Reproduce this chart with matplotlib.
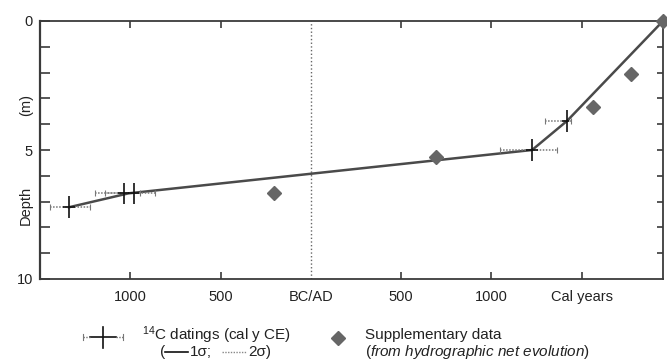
import matplotlib
matplotlib.use("Agg")
import matplotlib.pyplot as plt
import numpy as np

plt.rcParams['font.family'] = ['Liberation Sans', 'DejaVu Sans']
plt.rcParams['mathtext.fontset'] = 'custom'
plt.rcParams['mathtext.rm'] = 'Liberation Sans'
plt.rcParams['mathtext.it'] = 'Liberation Sans:italic'

# 14C datings (cal years, negative = BC) and depth (m)
c14_year = [-1340, -1037, -982, 1225, 1419]
c14_depth = [7.22, 6.68, 6.68, 5.0, 3.87]
c14_2s_lo = [-1443, -1194, -1139, 1050, 1299]
c14_2s_hi = [-1222, -945, -863, 1364, 1438]
c14_1s_lo = [-1372, -1070, -1015, 1193, 1392]
c14_1s_hi = [-1308, -1005, -950, 1257, 1432]

# age-depth model
model_year = [-1340, -1010, 1225, 1419, 1950]
model_depth = [7.22, 6.68, 5.0, 3.87, 0.0]

# supplementary data (hydrographic net evolution)
supp_year = [-206, 695, 1561, 1774, 1950]
supp_depth = [6.65, 5.26, 3.34, 2.05, 0.0]

xtick_pos = [-1000, -500, 0, 500, 1000, 1500]
xtick_lab = ['1000', '500', 'BC/AD', '500', '1000', 'Cal years']

W, H = 667, 362
fig = plt.figure(figsize=(W / 100, H / 100), dpi=100)
ax = fig.add_axes([40 / W, 1 - 279 / H, 623 / W, 258 / H])

ax.axvline(0, color='#666666', lw=1, ls=':', zorder=1)

ax.plot(model_year, model_depth, color='#4a4a4a', lw=1.8, zorder=2)

x = np.array(c14_year)
e2 = [x - np.array(c14_2s_lo), np.array(c14_2s_hi) - x]
e1 = [x - np.array(c14_1s_lo), np.array(c14_1s_hi) - x]
eb2 = ax.errorbar(c14_year, c14_depth, xerr=e2, fmt='none', ecolor='#777777',
                  elinewidth=1.1, capsize=2.5, capthick=0.8, zorder=3)
eb2[2][0].set_linestyle((0, (1, 1)))
ax.errorbar(c14_year, c14_depth, xerr=e1, yerr=0.42, fmt='none', ecolor='#111111',
            elinewidth=1.2, capsize=0, zorder=4)

ax.plot(supp_year, supp_depth, ls='none', marker='D', ms=7, color='#666666',
        mec='#666666', zorder=5, clip_on=False)

ax.set_xlim(-1500, 1950)
ax.set_ylim(10, 0)
ax.set_xticks(xtick_pos)
ax.set_xticklabels(xtick_lab)
ax.set_yticks([0, 5, 10])
ax.set_yticks(range(1, 10), minor=True)
ax.tick_params(axis='x', direction='in', length=5, width=1.2, color='#3a3a3a',
               top=True, labelsize=10.5, pad=8, labelcolor='#222222')
ax.tick_params(axis='y', which='both', direction='in', length=7.5, width=1.2,
               color='#3a3a3a', right=False, labelsize=10.5, pad=5,
               labelcolor='#222222')
for t in ax.xaxis.get_major_ticks():
    if t.get_loc() == 0:
        t.tick1line.set_visible(False)
        t.tick2line.set_visible(False)
# right-side ticks (shorter)
sec = ax.secondary_yaxis('right')
sec.set_yticks(range(1, 10))
sec.tick_params(direction='in', length=4.5, width=1.2, color='#3a3a3a', labelright=False)
sec.spines['right'].set_visible(False)

for s in ax.spines.values():
    s.set_color('#3a3a3a')
    s.set_linewidth(1.3)
ax.spines['left'].set_linewidth(1.6)

# overlay in pixel coordinates for labels and legend
lax = fig.add_axes([0, 0, 1, 1], zorder=-1)
lax.set_xlim(0, W)
lax.set_ylim(H, 0)
lax.axis('off')

lax.text(26, 205, 'Depth', rotation=90, ha='center', va='center', fontsize=10.5,
         color='#222222')
lax.text(26, 105, '(m)', rotation=90, ha='center', va='center', fontsize=10.5,
         color='#222222')

# legend: 14C symbol
lax.plot([90, 116], [337, 337], color='#111111', lw=1.2)
lax.plot([83, 90], [337, 337], color='#777777', lw=1, ls=(0, (1, 1)))
lax.plot([116, 123], [337, 337], color='#777777', lw=1, ls=(0, (1, 1)))
lax.plot([83, 83], [334, 340], color='#777777', lw=0.8)
lax.plot([123, 123], [334, 340], color='#777777', lw=0.8)
lax.plot([103, 103], [327, 348], color='#111111', lw=1.2)
lax.text(217, 335, r'$^{14}$C datings (cal y CE)', ha='center', va='center',
         fontsize=11, color='#222222')
lax.text(160, 352, '(', ha='left', va='center', fontsize=11, color='#222222')
lax.plot([165, 188], [352, 352], color='#111111', lw=1.2)
lax.text(190, 352, '1σ;', ha='left', va='center', fontsize=11, color='#222222')
lax.plot([222, 246], [352, 352], color='#888888', lw=1, ls=(0, (1, 1)))
lax.text(248, 352, '2σ)', ha='left', va='center', fontsize=11, color='#222222')

# legend: supplementary symbol
lax.plot([338], [338], ls='none', marker='D', ms=7, color='#666666')
lax.text(365, 335, 'Supplementary data', ha='left', va='center', fontsize=11,
         color='#222222')
lax.text(365, 352, r'($\it{from\ hydrographic\ net\ evolution}$)', ha='left',
         va='center', fontsize=11, color='#222222')

fig.savefig('out.png', dpi=100)
